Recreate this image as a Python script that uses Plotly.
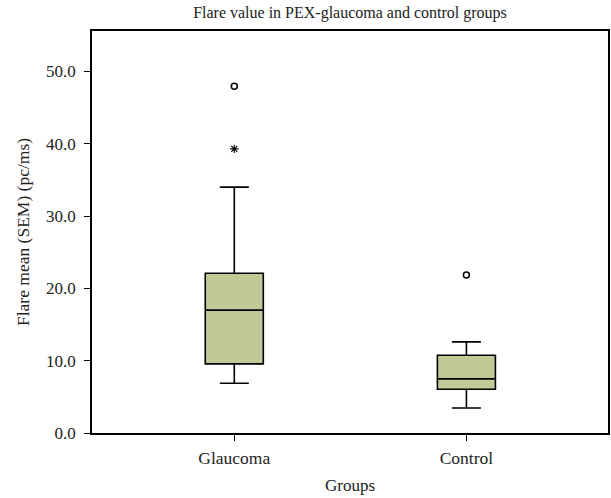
import plotly.graph_objects as go

groups = ["Glaucoma", "Control"]
q1 = [9.56, 6.05]
median = [17.0, 7.48]
q3 = [22.1, 10.76]
lower_whisker = [6.88, 3.46]
upper_whisker = [34.0, 12.6]

outlier_groups = ["Glaucoma", "Control"]
outlier_values = [47.96, 21.84]
extreme_groups = ["Glaucoma"]
extreme_values = [39.3]

y_ticks = [0, 10, 20, 30, 40, 50]
y_tick_labels = ["0.0", "10.0", "20.0", "30.0", "40.0", "50.0"]

font_family = "Liberation Serif, Times New Roman, serif"

fig = go.Figure()
fig.add_trace(go.Box(
    x=groups, q1=q1, median=median, q3=q3,
    lowerfence=lower_whisker, upperfence=upper_whisker,
    fillcolor="#C3C897", line=dict(color="black", width=1.6),
    width=0.25, whiskerwidth=0.5, boxpoints=False, showlegend=False,
    hoverinfo="skip",
))
fig.add_trace(go.Scatter(
    x=outlier_groups, y=outlier_values, mode="markers",
    marker=dict(symbol="circle-open", size=6, color="black", line=dict(width=1.5)),
    showlegend=False, hoverinfo="skip",
))
fig.add_trace(go.Scatter(
    x=extreme_groups, y=extreme_values, mode="markers",
    marker=dict(symbol="asterisk-open", size=7, color="black", line=dict(width=1.1)),
    showlegend=False, hoverinfo="skip",
))

fig.update_layout(
    width=611, height=498,
    margin=dict(l=92, r=3, t=31, b=65, autoexpand=False),
    paper_bgcolor="white", plot_bgcolor="white",
    font=dict(family=font_family, size=17, color="#222"),
    title=dict(text="Flare value in PEX-glaucoma and control groups",
               x=0.5, xanchor="center", y=0.976, yanchor="middle",
               xref="paper", font=dict(size=16, family=font_family)),
)
fig.update_xaxes(
    type="category", categoryorder="array", categoryarray=groups,
    range=[-0.613, 1.61], automargin=False,
    showline=True, linecolor="black", linewidth=1.5, mirror=True,
    ticks="outside", ticklen=6, tickcolor="black", tickwidth=1,
    ticklabelstandoff=2,
    showgrid=False, zeroline=False,
    title=dict(text="Groups", standoff=12, font=dict(size=17)),
    tickfont=dict(size=17.5),
)
fig.update_yaxes(
    range=[0, 55.6], automargin=False,
    tickvals=y_ticks, ticktext=y_tick_labels,
    showline=True, linecolor="black", linewidth=1.5, mirror=True,
    ticks="outside", ticklen=6, tickcolor="black", tickwidth=1,
    ticklabelstandoff=5,
    showgrid=False, zeroline=False,
    title=dict(text="Flare mean (SEM) (pc/ms)", standoff=12, font=dict(size=17.5)),
    tickfont=dict(size=17),
)

fig.write_html("out.html", config={"displayModeBar": False},
               post_script="document.body.style.margin='0px';")
